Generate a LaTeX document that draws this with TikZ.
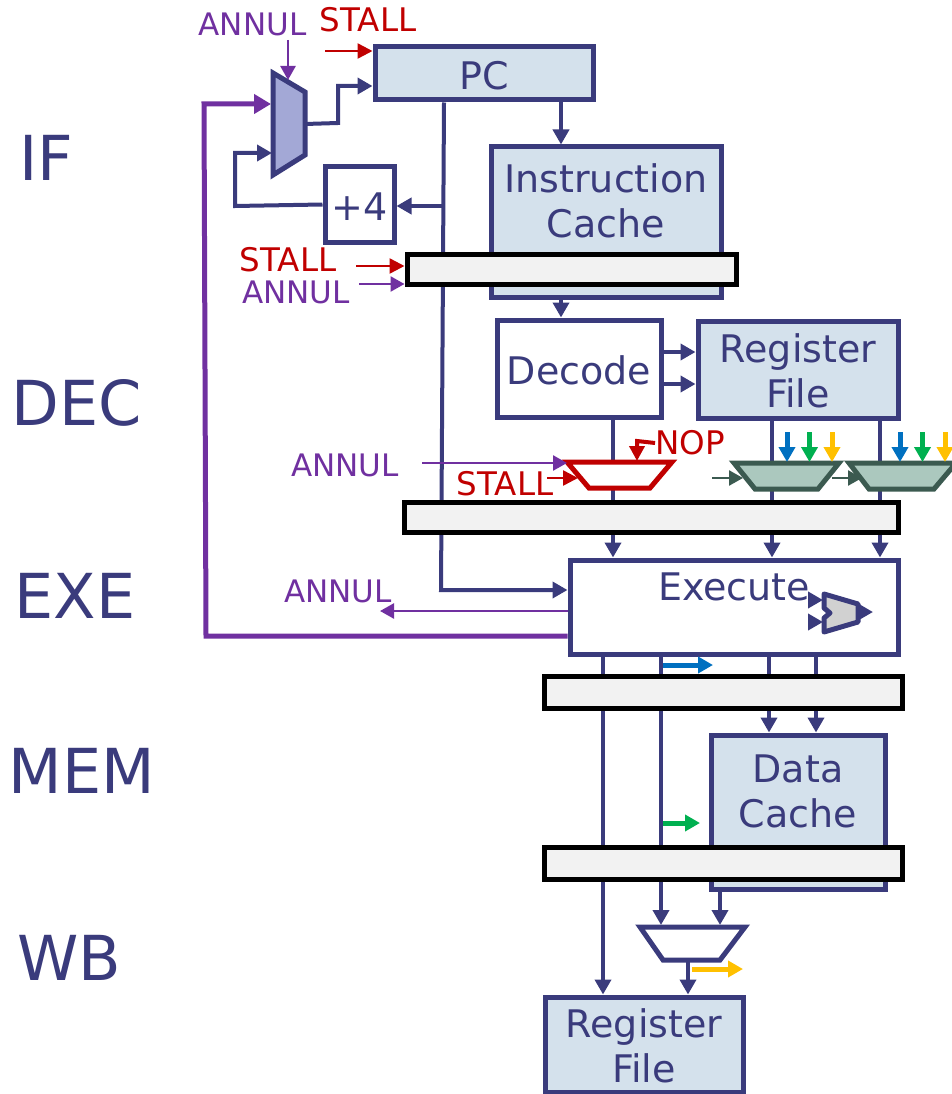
\documentclass[tikz,border=0pt]{standalone}
\usepackage{fontspec}
\setmainfont{DejaVu Sans}
\usetikzlibrary{arrows.meta,positioning,calc,backgrounds}
\definecolor{navy}{HTML}{3A3B7C}
\definecolor{boxblue}{HTML}{D4E1EC}
\definecolor{muxblue}{HTML}{A3A8D6}
\definecolor{annulc}{HTML}{7030A0}
\definecolor{stallc}{HTML}{C00000}
\definecolor{muxgreen}{HTML}{ABC8BE}
\definecolor{muxedge}{HTML}{3B5A50}
\definecolor{bypassb}{HTML}{0070C0}
\definecolor{bypassg}{HTML}{00B050}
\definecolor{bypassy}{HTML}{FFC000}
\tikzset{
  box/.style={draw=navy, rectangle, line width=5pt, align=center, text=navy, font=\fontsize{38}{45}\selectfont, text height=32pt, inner sep=0pt, fill=white},
  cbox/.style={box, fill=boxblue},
  rfbox/.style={cbox, text height=77pt},
  boxt/.style={text=navy, font=\fontsize{38}{45}\selectfont, align=center, inner sep=0pt},
  latch/.style={draw=black, rectangle, line width=5pt, inner sep=0pt, fill=black!5},
  muxp/.style={draw=navy, line width=5pt, fill=white, miter limit=4},
  stage/.style={text=navy, font=\fontsize{62}{62}\selectfont, inner sep=0pt},
  lbl/.style={font=\fontsize{31}{31}\selectfont, inner sep=0pt},
  slbl/.style={font=\fontsize{32.5}{32.5}\selectfont, inner sep=0pt},
  arr/.style={-{Stealth[length=15pt,width=16pt,inset=0pt]}, line width=4pt, draw=navy},
  aarr/.style={-{Stealth[length=14pt,width=15pt,inset=0pt]}, line width=2.5pt, draw=annulc},
  sarr/.style={-{Stealth[length=15pt,width=15pt,inset=0pt]}, line width=2.5pt, draw=stallc},
  garr/.style={-{Stealth[length=14pt,width=15pt,inset=0pt]}, line width=2.5pt, draw=muxedge},
  barr/.style={-{Stealth[length=15pt,width=16pt,inset=0pt]}, line width=5pt},
}

\begin{document}
\begin{tikzpicture}[x=1pt,y=-1pt]
\useasboundingbox (0,0) rectangle (952,1094);
% stage names
\node[stage] (ifl) at (46,158) {IF};
\node[stage] (decl) at (77,403) {DEC};
\node[stage] (exel) at (75,596) {EXE};
\node[stage] (meml) at (82,771) {MEM};
\node[stage] (wbl) at (69,958) {WB};
% fetch
\node[cbox, minimum width=218pt, minimum height=53pt] (pc) at (484,73.5) {PC};
\node[cbox, minimum width=230pt, minimum height=150pt] (icache) at (606,222) {};
\node[boxt] (icachet) at (606,201) {Instruction\\Cache};
\node[box, minimum width=69pt, minimum height=75pt] (plus) at (359.5,204.5) {+4};
\draw[muxp, fill=muxblue] (273,73) -- (305,92) -- (305,155) -- (273,175) -- cycle;
\coordinate (pcmuxout) at (305,124);
\coordinate (pcmuxin) at (272,153);
\coordinate (pcmuxfb) at (271,104);
\coordinate (pcmuxsel) at (288,80);
\node[latch, minimum width=329pt, minimum height=30pt] (fdlatch) at (571.5,269) {};
% decode
\node[box, minimum width=164pt, minimum height=97pt] (decode) at (579,368.5) {Decode};
\node[rfbox, minimum width=200pt, minimum height=97pt] (regs) at (798,369.5) {Register\\File};
\draw[muxp, draw=stallc] (567,462) -- (672,462) -- (650,488) -- (589,488) -- cycle;
\draw[muxp, draw=muxedge, fill=muxgreen] (734,463) -- (839,463) -- (818,489) -- (755,489) -- cycle;
\draw[muxp, draw=muxedge, fill=muxgreen] (849,463) -- (956,463) -- (934,489) -- (869,489) -- cycle;
\node[latch, minimum width=494pt, minimum height=30pt] (delatch) at (651,517) {};
% execute
\node[box, minimum width=328pt, minimum height=94pt] (execute) at (734,607) {};
\node[boxt] (executet) at (734,587) {Execute};
\node[latch, minimum width=358pt, minimum height=32pt] (emlatch) at (723,692) {};
% memory
\node[cbox, minimum width=174pt, minimum height=154pt] (dcache) at (798,812) {};
\node[boxt] (dcachet) at (798,791) {Data\\Cache};
\node[latch, minimum width=358pt, minimum height=32pt] (mwlatch) at (723,863) {};
% write back
\draw[muxp] (640,927) -- (745,927) -- (720,960) -- (663,960) -- cycle;
\coordinate (wbmuxa) at (661,925);
\coordinate (wbmuxb) at (720,925);
\coordinate (wbmuxout) at (688,960);
\node[rfbox, minimum width=198pt, minimum height=95pt] (wregs) at (644,1044.5) {Register\\File};
% control labels
\node[lbl, text=annulc] (annula) at (252.5,24) {ANNUL};
\node[slbl, text=stallc] (stalla) at (368,20) {STALL};
\node[slbl, text=stallc] (stallb) at (288,260) {STALL};
\node[lbl, text=annulc] (annulb) at (296,292) {ANNUL};
\node[lbl, text=annulc] (annulc) at (345,465) {ANNUL};
\node[slbl, text=stallc] (stallc) at (505,484) {STALL};
\node[slbl, text=stallc] (nop) at (690,443) {NOP};
\node[lbl, text=annulc] (annuld) at (338,591) {ANNUL};
% connectors behind the boxes
\begin{scope}[on background layer]
\coordinate (tap) at (444,206);
\coordinate (fwd) at (441,590);
\draw[arr] (pc.south -| 444,0) -- (fwd) -- (execute.west |- fwd);
\draw[arr] (tap) -- (plus.east |- tap);
\draw[arr] (pc.south -| 561,0) -- (icache.north -| 561,0);
\draw[arr] (icache.south -| 561,0) -- (decode.north -| 561,0);
\draw[arr] (pcmuxout) -- (338,123) |- (pc.west |- 0,86);
\draw[arr] (plus.west) -- (235,206) |- (pcmuxin);
\draw[arr] (decode.east |- 0,352) -- (regs.west |- 0,352);
\draw[arr] (decode.east |- 0,384) -- (regs.west |- 0,384);
\draw[arr] (decode.south -| 613,0) -- (execute.north -| 613,0);
\draw[arr] (regs.south -| 772,0) -- (execute.north -| 772,0);
\draw[arr] (regs.south -| 880,0) -- (execute.north -| 880,0);
\draw[arr] (execute.south -| 603,0) -- (wregs.north -| 603,0);
\draw[arr] (execute.south -| 661,0) -- (wbmuxa);
\draw[arr] (execute.south -| 769,0) -- (dcache.north -| 769,0);
\draw[arr] (execute.south -| 816,0) -- (dcache.north -| 816,0);
\draw[arr] (dcache.south -| 720,0) -- (wbmuxb);
\draw[arr] (wbmuxout) -- (wregs.north -| 688,0);
\end{scope}
% control arrows
\draw[aarr] (288,40) -- (pcmuxsel);
\draw[sarr] (325,51) -- (pc.west |- 0,51);
\draw[sarr] (356,266) -- (fdlatch.west |- 0,266);
\draw[aarr] (359,284) -- (fdlatch.west |- 0,284);
\draw[aarr] (422,463) -- (567,463);
\draw[sarr] (547,478) -- (578,478);
\draw[sarr, line width=4pt] (nop.west) -- (637,441) -- (637,461);
\draw[aarr] (execute.west |- 0,611) -- (380,611);
\draw[-{Stealth[length=17pt,width=19pt,inset=0pt]}, line width=5pt, draw=annulc] (execute.west |- 0,636) -- (206,636) -- (204,104) -- (pcmuxfb);
% operand select
\foreach \base in {787,900}{
  \draw[barr, draw=bypassb] (\base,432) -- (\base,462);
  \draw[barr, draw=bypassg] ({\base+22.5},432) -- ({\base+22.5},462);
  \draw[barr, draw=bypassy] ({\base+45},432) -- ({\base+45},462);
}
\draw[garr] (712,478) -- (743,478);
\draw[garr] (832,478) -- (862,478);
% alu
\draw[draw=navy, line width=5pt, fill=black!18, line join=round] (824,594) -- (858,604) -- (858,622) -- (824,632) -- (824,618) -- (830,613) -- (824,608) -- cycle;
\draw[arr] (808,600) -- (823,600);
\draw[arr] (808,622) -- (823,622);
\draw[arr] (858,612) -- (873,612);
% bypass values
\draw[barr, draw=bypassb] (663,665) -- (713,665);
\draw[barr, draw=bypassg] (663,823) -- (700,823);
\draw[barr, draw=bypassy] (692,969) -- (743,969);
\end{tikzpicture}
\end{document}
